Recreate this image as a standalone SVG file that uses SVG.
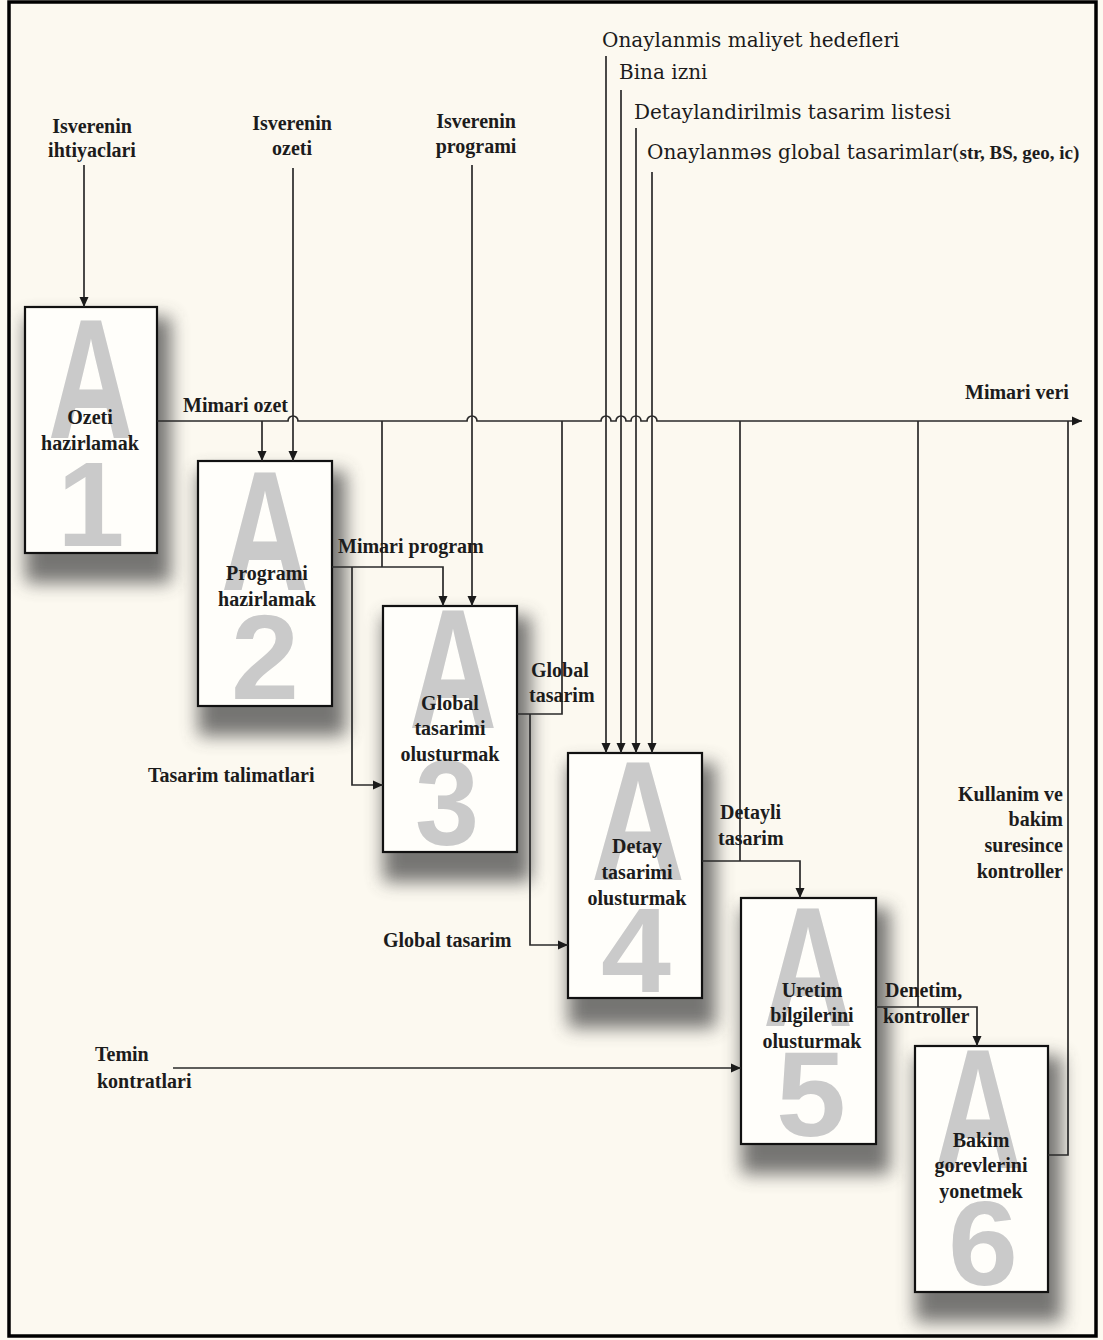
<svg xmlns="http://www.w3.org/2000/svg" width="1103" height="1340" viewBox="0 0 1103 1340">
  <style>
    .lb { font-family: "Liberation Serif", "Times New Roman", serif; font-weight: bold; font-size: 20px; fill: #1c1c1c; }
    .nl { font-family: "Liberation Serif", "Times New Roman", serif; font-weight: bold; font-size: 20px; fill: #1c1c1c; text-anchor: middle; }
    .tr { font-family: "DejaVu Serif", "Liberation Serif", serif; font-size: 20px; fill: #1c1c1c; }
    .wmA { font-family: "Liberation Sans", Arial, sans-serif; font-weight: bold; font-size: 170px; fill: #cacaca; text-anchor: middle; }
    .wmN { font-family: "Liberation Sans", Arial, sans-serif; font-weight: bold; font-size: 121px; fill: #cacaca; text-anchor: middle; }
    .box { fill: #fffefa; stroke: #111; stroke-width: 2.2; }
    .shd { fill: #4a4a4a; opacity: 0.75; filter: url(#blur); }
    .cn { fill: none; stroke: #2a2a2a; stroke-width: 1.7; }
    .ar { marker-end: url(#ah); }
  </style>
  <defs>
    <filter id="blur" x="-40%" y="-40%" width="180%" height="180%">
      <feGaussianBlur stdDeviation="9"/>
    </filter>
    <marker id="ah" viewBox="0 0 10 10" refX="10" refY="5" markerWidth="11" markerHeight="10" markerUnits="userSpaceOnUse" orient="auto">
      <path d="M0,0.5 L10,5 L0,9.5 Z" fill="#1a1a1a"/>
    </marker>
  </defs>

  <!-- page background and frame -->
  <rect x="0" y="0" width="1103" height="1340" fill="#fcf9f0"/>
  <rect x="9" y="2" width="1087" height="1334" fill="none" stroke="#000" stroke-width="3.5"/>

  <!-- activity boxes -->
  <g id="A1">
    <rect class="shd" x="25" y="317" width="146" height="266"/>
    <rect class="box" x="25" y="307" width="132" height="246"/>
    <text class="wmA" x="91" y="438" textLength="86" lengthAdjust="spacingAndGlyphs">A</text>
    <text class="wmN" x="91" y="546">1</text>
    <text class="nl" x="90" y="424">Ozeti</text>
    <text class="nl" x="90" y="450">hazirlamak</text>
  </g>
  <g id="A2">
    <rect class="shd" x="198" y="471" width="148" height="265"/>
    <rect class="box" x="198" y="461" width="134" height="245"/>
    <text class="wmA" x="265" y="590" textLength="88" lengthAdjust="spacingAndGlyphs">A</text>
    <text class="wmN" x="265" y="699" textLength="68" lengthAdjust="spacingAndGlyphs">2</text>
    <text class="nl" x="267" y="580">Programi</text>
    <text class="nl" x="267" y="606">hazirlamak</text>
  </g>
  <g id="A3">
    <rect class="shd" x="383" y="616" width="148" height="266"/>
    <rect class="box" x="383" y="606" width="134" height="246"/>
    <text class="wmA" x="453" y="728" textLength="88" lengthAdjust="spacingAndGlyphs">A</text>
    <text class="wmN" x="447" y="845" textLength="64" lengthAdjust="spacingAndGlyphs">3</text>
    <text class="nl" x="450" y="710">Global</text>
    <text class="nl" x="450" y="735">tasarimi</text>
    <text class="nl" x="450" y="761">olusturmak</text>
  </g>
  <g id="A4">
    <rect class="shd" x="568" y="763" width="148" height="265"/>
    <rect class="box" x="568" y="753" width="134" height="245"/>
    <text class="wmA" x="638" y="880" textLength="94" lengthAdjust="spacingAndGlyphs">A</text>
    <text class="wmN" x="636" y="992" textLength="70" lengthAdjust="spacingAndGlyphs">4</text>
    <text class="nl" x="637" y="853">Detay</text>
    <text class="nl" x="637" y="879">tasarimi</text>
    <text class="nl" x="637" y="905">olusturmak</text>
  </g>
  <g id="A5">
    <rect class="shd" x="741" y="908" width="149" height="266"/>
    <rect class="box" x="741" y="898" width="135" height="246"/>
    <text class="wmA" x="808" y="1026" textLength="90" lengthAdjust="spacingAndGlyphs">A</text>
    <text class="wmN" x="811" y="1136" textLength="70" lengthAdjust="spacingAndGlyphs">5</text>
    <text class="nl" x="812" y="997">Uretim</text>
    <text class="nl" x="812" y="1022">bilgilerini</text>
    <text class="nl" x="812" y="1048">olusturmak</text>
  </g>
  <g id="A6">
    <rect class="shd" x="915" y="1056" width="147" height="266"/>
    <rect class="box" x="915" y="1046" width="133" height="246"/>
    <text class="wmA" x="978" y="1168" textLength="88" lengthAdjust="spacingAndGlyphs">A</text>
    <text class="wmN" x="983" y="1285" textLength="70" lengthAdjust="spacingAndGlyphs">6</text>
    <text class="nl" x="981" y="1147">Bakim</text>
    <text class="nl" x="981" y="1172">gorevlerini</text>
    <text class="nl" x="981" y="1198">yonetmek</text>
  </g>

  <!-- arrows between activities -->
  <g id="connectors">
    <path class="cn ar" d="M84,165 V307"/>
    <path class="cn ar" d="M293,168 V461"/>
    <path class="cn ar" d="M472,165 V606"/>
    <path class="cn ar" d="M606,56 V753"/>
    <path class="cn ar" d="M621,90 V753"/>
    <path class="cn ar" d="M636,128 V753"/>
    <path class="cn ar" d="M652,172 V753"/>
    <!-- Mimari veri bus, hopping over the crossing inputs -->
    <path class="cn ar" d="M157,421 H288 a5,5 0 0 1 10,0 H467 a5,5 0 0 1 10,0 H601 a5,5 0 0 1 10,0 H616 a5,5 0 0 1 10,0 H631 a5,5 0 0 1 10,0 H647 a5,5 0 0 1 10,0 H1082"/>
    <path class="cn ar" d="M262,421 V461"/>
    <path class="cn" d="M382,421 V567"/>
    <path class="cn ar" d="M332,567 H443 V606"/>
    <path class="cn ar" d="M352,567 V785 H383"/>
    <path class="cn" d="M517,714 H562 V421"/>
    <path class="cn ar" d="M530,714 V945 H568"/>
    <path class="cn" d="M740,421 V861"/>
    <path class="cn ar" d="M702,861 H800 V898"/>
    <path class="cn" d="M918,421 V1007"/>
    <path class="cn ar" d="M876,1007 H977 V1046"/>
    <path class="cn" d="M1048,1155 H1068 V421"/>
    <path class="cn ar" d="M173,1068 H741"/>
  </g>

  <!-- flow labels -->
  <g id="labels">
    <text class="lb" x="92" y="133" text-anchor="middle">Isverenin</text>
    <text class="lb" x="92" y="157" text-anchor="middle">ihtiyaclari</text>
    <text class="lb" x="292" y="130" text-anchor="middle">Isverenin</text>
    <text class="lb" x="292" y="155" text-anchor="middle">ozeti</text>
    <text class="lb" x="476" y="128" text-anchor="middle">Isverenin</text>
    <text class="lb" x="476" y="153" text-anchor="middle">programi</text>

    <text class="tr" x="602" y="47">Onaylanmis maliyet hedefleri</text>
    <text class="tr" x="619" y="79">Bina izni</text>
    <text class="tr" x="634" y="119">Detaylandirilmis tasarim listesi</text>
    <text class="tr" x="647" y="159">Onaylanməs global tasarimlar(<tspan font-family="Liberation Serif, serif" font-weight="bold" font-size="19">str, BS, geo, ic)</tspan></text>

    <text class="lb" x="183" y="412">Mimari ozet</text>
    <text class="lb" x="965" y="399">Mimari veri</text>
    <text class="lb" x="338" y="553">Mimari program</text>
    <text class="lb" x="531" y="677">Global</text>
    <text class="lb" x="529" y="702">tasarim</text>
    <text class="lb" x="148" y="782">Tasarim talimatlari</text>
    <text class="lb" x="383" y="947">Global tasarim</text>
    <text class="lb" x="720" y="819">Detayli</text>
    <text class="lb" x="718" y="845">tasarim</text>
    <text class="lb" x="885" y="997">Denetim,</text>
    <text class="lb" x="883" y="1023">kontroller</text>
    <text class="lb" x="1063" y="801" text-anchor="end">Kullanim ve</text>
    <text class="lb" x="1063" y="826" text-anchor="end">bakim</text>
    <text class="lb" x="1063" y="852" text-anchor="end">suresince</text>
    <text class="lb" x="1063" y="878" text-anchor="end">kontroller</text>
    <text class="lb" x="95" y="1061">Temin</text>
    <text class="lb" x="97" y="1088">kontratlari</text>
  </g>
</svg>
